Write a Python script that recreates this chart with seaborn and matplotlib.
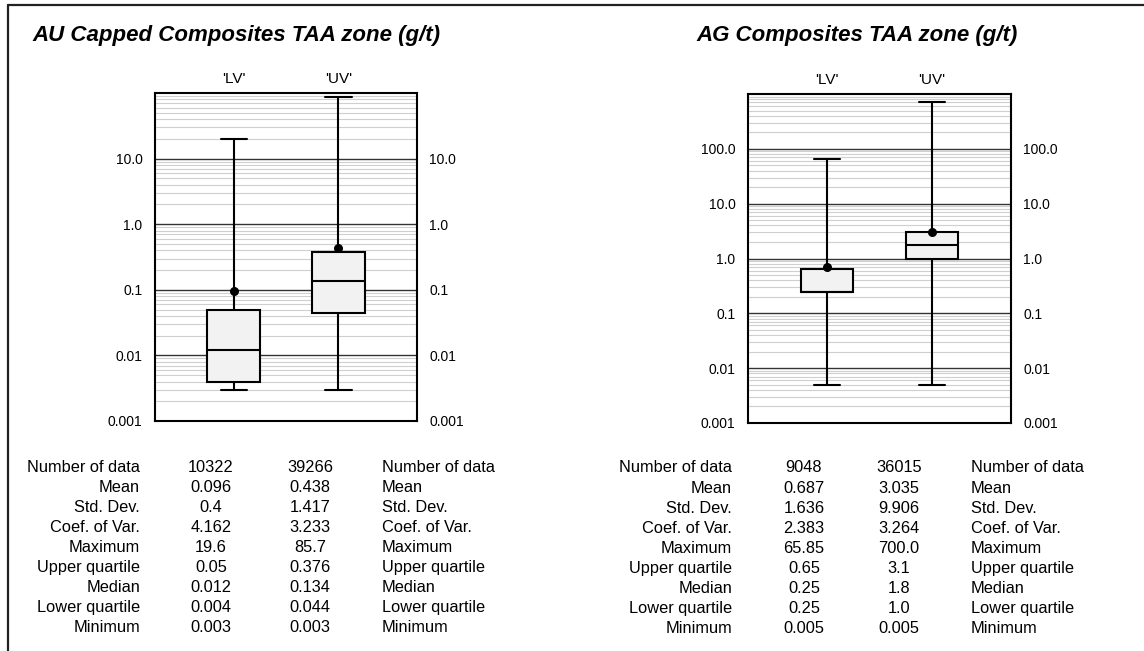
import matplotlib

matplotlib.use("Agg")
import matplotlib.pyplot as plt
import matplotlib.ticker as mticker
import numpy as np
import pandas as pd
import seaborn as sns
from matplotlib.lines import Line2D

sns.set_theme(style="white")
plt.rcParams["font.family"] = ["Liberation Sans", "DejaVu Sans"]
plt.rcParams["text.color"] = "black"
plt.rcParams["xtick.color"] = "black"
plt.rcParams["ytick.color"] = "black"

W, H = 1144, 651

# five-number summaries (min, lower q, median, upper q, max) per zone
zones = ["'LV'", "'UV'"]
au_lv = [0.003, 0.004, 0.012, 0.05, 19.6]
au_uv = [0.003, 0.044, 0.134, 0.376, 85.7]
ag_lv = [0.005, 0.25, 0.25, 0.65, 65.85]
ag_uv = [0.005, 1.0, 1.8, 3.1, 700.0]
au_means = [0.096, 0.438]
ag_means = [0.687, 3.035]

row_names = ["Number of data", "Mean", "Std. Dev.", "Coef. of Var.", "Maximum",
             "Upper quartile", "Median", "Lower quartile", "Minimum"]
au_table_lv = ["10322", "0.096", "0.4", "4.162", "19.6", "0.05", "0.012", "0.004", "0.003"]
au_table_uv = ["39266", "0.438", "1.417", "3.233", "85.7", "0.376", "0.134", "0.044", "0.003"]
ag_table_lv = ["9048", "0.687", "1.636", "2.383", "65.85", "0.65", "0.25", "0.25", "0.005"]
ag_table_uv = ["36015", "3.035", "9.906", "3.264", "700.0", "3.1", "1.8", "1.0", "0.005"]

au_ticks = [0.001, 0.01, 0.1, 1, 10]
au_ticklabels = ["0.001", "0.01", "0.1", "1.0", "10.0"]
ag_ticks = [0.001, 0.01, 0.1, 1, 10, 100]
ag_ticklabels = ["0.001", "0.01", "0.1", "1.0", "10.0", "100.0"]


def px(x, y):
    """pixel position (from top-left) -> figure fraction"""
    return x / W, 1 - y / H


def panel(fig, rect, lv, uv, means, ylim, ticks, ticklabels):
    ax = fig.add_axes(rect)
    df = pd.DataFrame({"zone": [zones[0]] * len(lv) + [zones[1]] * len(uv),
                       "value": lv + uv})
    sns.boxplot(data=df, x="zone", y="value", ax=ax, log_scale=True, whis=(0, 100),
                width=0.5, color="#f2f2f2", saturation=1, linecolor="black",
                linewidth=1.5, showfliers=False)
    sns.stripplot(x=zones, y=means, ax=ax, jitter=False, color="black", size=6.5,
                  zorder=5)
    ax.set_yscale("log")
    ax.set_ylim(*ylim)
    ax.set_xlim(-0.75, 1.75)
    ax.set_yticks(ticks)
    ax.set_yticklabels(ticklabels)
    ax.yaxis.set_minor_locator(mticker.LogLocator(base=10, subs=np.arange(2, 10)))
    ax.yaxis.set_minor_formatter(mticker.NullFormatter())
    ax.grid(which="minor", axis="y", color="#cfcfcf", lw=0.8)
    ax.grid(which="major", axis="y", color="#333333", lw=1.0)
    ax.set_axisbelow(True)
    ax.xaxis.tick_top()
    ax.tick_params(axis="x", length=0, pad=5, labelsize=11)
    ax.tick_params(axis="y", which="both", length=0, labelleft=True, labelright=True,
                   pad=9, labelsize=10)
    ax.set_xlabel("")
    ax.set_ylabel("")
    for s in ax.spines.values():
        s.set_visible(True)
        s.set_color("black")
        s.set_linewidth(1.5)
    return ax


def table(fig, x_label, x_c1, x_c2, x_right, y0, col1, col2):
    for i, name in enumerate(row_names):
        y = y0 + i * 20.1
        fig.text(*px(x_label, y), name, ha="right", va="center", fontsize=11.8)
        fig.text(*px(x_c1, y), col1[i], ha="center", va="center", fontsize=11.8)
        fig.text(*px(x_c2, y), col2[i], ha="center", va="center", fontsize=11.8)
        fig.text(*px(x_right, y), name, ha="left", va="center", fontsize=11.8)


fig = plt.figure(figsize=(W / 100, H / 100), dpi=100)

panel(fig, [155 / W, 1 - 421 / H, 262 / W, 328 / H], au_lv, au_uv, au_means,
      (0.001, 100), au_ticks, au_ticklabels)
panel(fig, [748 / W, 1 - 423 / H, 263 / W, 329 / H], ag_lv, ag_uv, ag_means,
      (0.001, 1000), ag_ticks, ag_ticklabels)

fig.text(*px(236, 35), "AU Capped Composites TAA zone (g/t)", ha="center", va="center",
         fontsize=16, fontweight="bold", fontstyle="italic")
fig.text(*px(857, 35), "AG Composites TAA zone (g/t)", ha="center", va="center",
         fontsize=16, fontweight="bold", fontstyle="italic")

table(fig, 140, 211, 310, 382, 467, au_table_lv, au_table_uv)
table(fig, 732, 804, 899, 971, 468, ag_table_lv, ag_table_uv)

# frame lines (top and left edge)
fig.add_artist(Line2D([8 / W, 1], [1 - 5 / H, 1 - 5 / H], color="#222222", lw=1.6,
                      transform=fig.transFigure))
fig.add_artist(Line2D([8 / W, 8 / W], [0, 1 - 5 / H], color="#222222", lw=1.6,
                      transform=fig.transFigure))

fig.savefig("out.png", dpi=100)
